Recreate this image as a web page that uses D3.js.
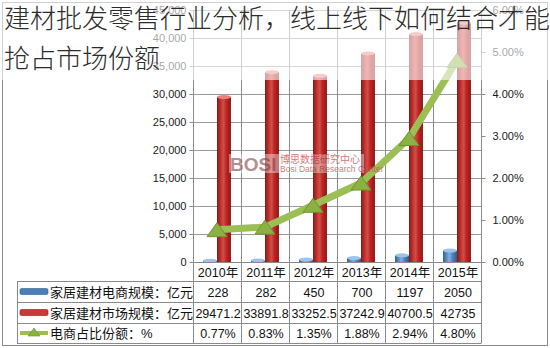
<!DOCTYPE html>
<html>
<head>
<meta charset="utf-8">
<script src="https://cdn.jsdelivr.net/npm/d3@7"></script>
<style>
  body { margin: 0; background: #fff; }
  svg { display: block; }
  text { font-family: "Liberation Sans", "Noto Sans CJK SC", sans-serif; }
</style>
</head>
<body>
<div id="chart"></div>
<script>
// values
var years = ['2010年', '2011年', '2012年', '2013年', '2014年', '2015年']
var ecomSize = [228, 282, 450, 700, 1197, 2050]
var marketSize = [29471.2, 33891.8, 33252.5, 37242.9, 40700.5, 42735]
var ecomShare = [0.77, 0.83, 1.35, 1.88, 2.94, 4.80]
var leftTicks = [0, 5000, 10000, 15000, 20000, 25000, 30000, 35000, 40000, 45000]
var rightTicks = [0, 1, 2, 3, 4, 5, 6]
var rowLabels = ['家居建材电商规模：亿元', '家居建材市场规模：亿元', '电商占比份额：%']
var ecomText = ['228', '282', '450', '700', '1197', '2050']
var marketText = ['29471.2', '33891.8', '33252.5', '37242.9', '40700.5', '42735']
var shareText = ['0.77%', '0.83%', '1.35%', '1.88%', '2.94%', '4.80%']
var titleLines = ['建材批发零售行业分析，线上线下如何结合才能', '抢占市场份额']

var svgWidth = 550
var svgHeight = 348

// plot area
var plot = { left: 193, right: 481, top: 10, bottom: 262 }
// table rows (years row, then 3 data rows)
var rowEdges = [262, 281, 302, 323, 343]
var legendLeft = 17

var svg = d3.select('#chart')
  .append('svg')
  .attr('width', svgWidth)
  .attr('height', svgHeight)

var defs = svg.append('defs')

function cylGrad (id, dark, mid, light) {
  var g = defs.append('linearGradient').attr('id', id)
    .attr('x1', '0%').attr('x2', '100%').attr('y1', '0%').attr('y2', '0%')
  g.append('stop').attr('offset', '0%').attr('stop-color', dark)
  g.append('stop').attr('offset', '45%').attr('stop-color', light)
  g.append('stop').attr('offset', '70%').attr('stop-color', mid)
  g.append('stop').attr('offset', '100%').attr('stop-color', dark)
}
cylGrad('redCyl', '#8e1515', '#b62424', '#d84a45')
cylGrad('blueCyl', '#2f5f8f', '#4a7fb8', '#7fb0e0')

// outer frame
svg.append('rect')
  .attr('x', 2.5).attr('y', 2.5)
  .attr('width', 545).attr('height', 343)
  .attr('fill', 'none').attr('stroke', '#8a8a8a')

var x = d3.scaleBand()
  .domain(years)
  .range([plot.left, plot.right])

var xSub = d3.scaleBand()
  .domain(['ecom', 'market'])
  .range([0, x.bandwidth()])
  .paddingOuter(0.72)

var yLeft = d3.scaleLinear().domain([0, 45000]).range([plot.bottom, plot.top])
var yRight = d3.scaleLinear().domain([0, 6]).range([plot.bottom, plot.top])

// horizontal gridlines
svg.append('g')
  .selectAll('line')
  .data(leftTicks.slice(1))
  .enter()
  .append('line')
  .attr('x1', plot.left).attr('x2', plot.right)
  .attr('y1', d => Math.round(yLeft(d)) + 0.5)
  .attr('y2', d => Math.round(yLeft(d)) + 0.5)
  .attr('stroke', '#9a9a9a')

// vertical gridlines at category edges (run down through the table)
var edges = years.map(d => x(d)).concat([plot.right])
svg.append('g')
  .selectAll('line')
  .data(edges)
  .enter()
  .append('line')
  .attr('x1', d => Math.round(d) + 0.5).attr('x2', d => Math.round(d) + 0.5)
  .attr('y1', plot.top).attr('y2', rowEdges[4])
  .attr('stroke', '#8a8a8a')

// left axis
var leftAxis = d3.axisLeft(yLeft).tickValues(leftTicks).tickSize(4).tickPadding(3)
var gL = svg.append('g')
  .attr('transform', `translate(${plot.left + 0.5}, 0)`)
  .call(leftAxis)
gL.select('.domain').remove()
gL.selectAll('line').attr('stroke', '#8a8a8a')
gL.selectAll('text').attr('fill', '#1a1a1a')
  .attr('font-family', '"DejaVu Sans", sans-serif').attr('font-size', '11px')

// right axis
var rightAxis = d3.axisRight(yRight).tickValues(rightTicks).tickSize(4).tickPadding(7)
  .tickFormat(d => d.toFixed(2) + '%')
var gR = svg.append('g')
  .attr('transform', `translate(${plot.right + 0.5}, 0)`)
  .call(rightAxis)
gR.select('.domain').remove()
gR.selectAll('line').attr('stroke', '#8a8a8a')
gR.selectAll('text').attr('fill', '#1a1a1a')
  .attr('font-family', '"DejaVu Sans", sans-serif').attr('font-size', '11px')

// bars: e-commerce (blue) and market (red) as little cylinders
function drawCylinders (values, key, fill, topFill) {
  var g = svg.append('g')
  var w = xSub.bandwidth()
  g.selectAll('rect')
    .data(values)
    .enter()
    .append('rect')
    .attr('x', (d, i) => x(years[i]) + xSub(key))
    .attr('y', d => yLeft(d))
    .attr('width', w)
    .attr('height', d => plot.bottom - yLeft(d))
    .attr('fill', fill)
  g.selectAll('ellipse')
    .data(values)
    .enter()
    .append('ellipse')
    .attr('cx', (d, i) => x(years[i]) + xSub(key) + w / 2)
    .attr('cy', d => yLeft(d))
    .attr('rx', w / 2)
    .attr('ry', 2)
    .attr('fill', topFill)
}
drawCylinders(ecomSize, 'ecom', 'url(#blueCyl)', '#9cc3ea')
drawCylinders(marketSize, 'market', 'url(#redCyl)', '#e9807b')

// share line with triangle markers
var line = d3.line()
  .x((d, i) => x(years[i]) + x.bandwidth() / 2)
  .y(d => yRight(d))

svg.append('path')
  .datum(ecomShare)
  .attr('d', line)
  .attr('fill', 'none')
  .attr('stroke', '#9bbe55')
  .attr('stroke-width', 7)
  .attr('stroke-linejoin', 'round')

svg.append('g')
  .selectAll('path')
  .data(ecomShare)
  .enter()
  .append('path')
  .attr('d', 'M0,-8L10,6L-10,6Z')
  .attr('transform', (d, i) => `translate(${x(years[i]) + x.bandwidth() / 2}, ${yRight(d) + 1})`)
  .attr('fill', '#8cb143')
  .attr('stroke', '#6f9331')
  .attr('stroke-width', 1)

// watermark
var wm = svg.append('g').attr('opacity', 0.75)
wm.append('rect')
  .attr('x', 229).attr('y', 154).attr('width', 135).attr('height', 19)
  .attr('fill', '#fff').attr('opacity', 0.55)
wm.append('text')
  .attr('x', 230).attr('y', 171)
  .attr('font-size', '19px').attr('font-weight', 'bold')
  .attr('fill', '#9a6a6a')
  .text('BOSI')
wm.append('text')
  .attr('x', 280).attr('y', 163)
  .attr('font-family', '"Noto Sans CJK SC", sans-serif')
  .attr('font-size', '10px').attr('fill', '#c0504d')
  .text('博思数据研究中心')
wm.append('text')
  .attr('x', 280).attr('y', 172)
  .attr('font-size', '8.5px').attr('fill', '#c0504d')
  .text('Bosi Data Research Center')

// data table
var table = svg.append('g')
table.selectAll('line.h')
  .data(rowEdges)
  .enter()
  .append('line')
  .attr('x1', (d, i) => i < 1 ? plot.left : legendLeft)
  .attr('x2', plot.right + 0.5)
  .attr('y1', d => d + 0.5).attr('y2', d => d + 0.5)
  .attr('stroke', '#8a8a8a')

table.append('line')
  .attr('x1', legendLeft + 0.5).attr('x2', legendLeft + 0.5)
  .attr('y1', rowEdges[1]).attr('y2', rowEdges[4])
  .attr('stroke', '#8a8a8a')

var rows = [years, ecomText, marketText, shareText]
rows.forEach(function (vals, r) {
  table.append('g')
    .selectAll('text')
    .data(vals)
    .enter()
    .append('text')
    .attr('x', (d, i) => x(years[i]) + x.bandwidth() / 2 + 1)
    .attr('y', (rowEdges[r] + rowEdges[r + 1]) / 2 + 5)
    .attr('text-anchor', 'middle')
    .attr('font-size', '12.5px')
    .attr('fill', '#111')
    .text(d => d)
})

// row legend labels + keys
rowLabels.forEach(function (lab, r) {
  var cy = (rowEdges[r + 1] + rowEdges[r + 2]) / 2
  table.append('text')
    .attr('x', 50)
    .attr('y', cy + 5)
    .attr('font-family', '"Noto Sans CJK SC", sans-serif')
    .attr('font-size', '13px')
    .attr('fill', '#111')
    .text(lab)
})
var keyY = rowEdges.slice(1, 4).map((d, i) => (d + rowEdges[i + 2]) / 2)
table.append('rect')
  .attr('x', 20).attr('y', keyY[0] - 3).attr('width', 28).attr('height', 6)
  .attr('rx', 1.5).attr('fill', '#4a7fb8').attr('stroke', '#2f5f8f').attr('stroke-width', 0.6)
table.append('rect')
  .attr('x', 20).attr('y', keyY[1] - 3).attr('width', 28).attr('height', 6)
  .attr('rx', 1.5).attr('fill', '#c93a36').attr('stroke', '#8e1515').attr('stroke-width', 0.6)
table.append('line')
  .attr('x1', 20).attr('x2', 48).attr('y1', keyY[2]).attr('y2', keyY[2])
  .attr('stroke', '#9bbe55').attr('stroke-width', 4)
table.append('path')
  .attr('d', 'M0,-5L6,3L-6,3Z')
  .attr('transform', `translate(34, ${keyY[2]})`)
  .attr('fill', '#8cb143').attr('stroke', '#6f9331').attr('stroke-width', 0.6)

// title with pale backing over the top of the chart
svg.append('rect')
  .attr('x', 0).attr('y', 0).attr('width', svgWidth).attr('height', 80)
  .attr('fill', '#fff').attr('opacity', 0.6)

svg.append('g')
  .selectAll('text')
  .data(titleLines)
  .enter()
  .append('text')
  .attr('x', 4)
  .attr('y', (d, i) => 28 + i * 40)
  .attr('font-family', '"Noto Sans CJK SC", sans-serif')
  .attr('font-weight', 300)
  .attr('font-size', '26px')
  .attr('fill', '#2c2c2c')
  .text(d => d)
</script>
</body>
</html>
